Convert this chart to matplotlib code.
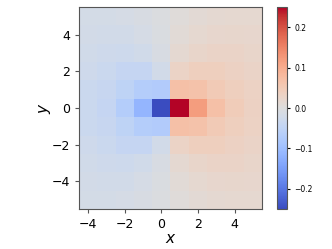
import matplotlib
matplotlib.use("Agg")
import matplotlib.pyplot as plt
import numpy as np

# cell centres
xs = [-4, -3, -2, -1, 0, 1, 2, 3, 4, 5]
ys = [-5, -4, -3, -2, -1, 0, 1, 2, 3, 4, 5]

# field values per row (y = 0 .. 5), mirrored for negative y
row_y0 = [-0.032, -0.042, -0.068, -0.115, -0.250, 0.250, 0.120, 0.070, 0.045, 0.035]
row_y1 = [-0.032, -0.038, -0.052, -0.068, -0.072, 0.070, 0.065, 0.050, 0.040, 0.032]
row_y2 = [-0.027, -0.032, -0.042, -0.042, -0.020, 0.030, 0.040, 0.040, 0.035, 0.028]
row_y3 = [-0.022, -0.026, -0.028, -0.022, -0.010, 0.015, 0.025, 0.028, 0.028, 0.024]
row_y4 = [-0.019, -0.020, -0.020, -0.015, -0.006, 0.008, 0.016, 0.020, 0.022, 0.020]
row_y5 = [-0.016, -0.016, -0.014, -0.010, -0.004, 0.005, 0.011, 0.014, 0.016, 0.017]

upper = [row_y0, row_y1, row_y2, row_y3, row_y4, row_y5]
Z = np.array(upper[:0:-1] + upper)  # rows y = -5 .. 5

VMIN, VMAX = -0.25, 0.25
CB_TICKS = [-0.2, -0.1, 0.0, 0.1, 0.2]

fig = plt.figure(figsize=(3.32, 2.49), dpi=100)
ax = fig.add_axes([0.238, 0.161, 0.551, 0.810])
cax = fig.add_axes([0.834, 0.161, 0.030, 0.810])

im = ax.imshow(Z, cmap="coolwarm", vmin=VMIN, vmax=VMAX, origin="lower",
               extent=[xs[0] - 0.5, xs[-1] + 0.5, ys[0] - 0.5, ys[-1] + 0.5],
               interpolation="nearest", aspect="equal")
ax.set_xticks([-4, -2, 0, 2, 4])
ax.set_yticks([-4, -2, 0, 2, 4])
ax.tick_params(labelsize=9, length=3, color="#555555")
ax.set_xlabel("$x$", fontsize=11, labelpad=0)
ax.set_ylabel("$y$", fontsize=11, labelpad=-1)
for s in ax.spines.values():
    s.set_edgecolor("#555555")

cb = fig.colorbar(im, cax=cax, ticks=CB_TICKS)
cb.ax.tick_params(labelsize=5.5, length=2)
cb.outline.set_edgecolor("#555555")

fig.savefig("out.png", dpi=100)
